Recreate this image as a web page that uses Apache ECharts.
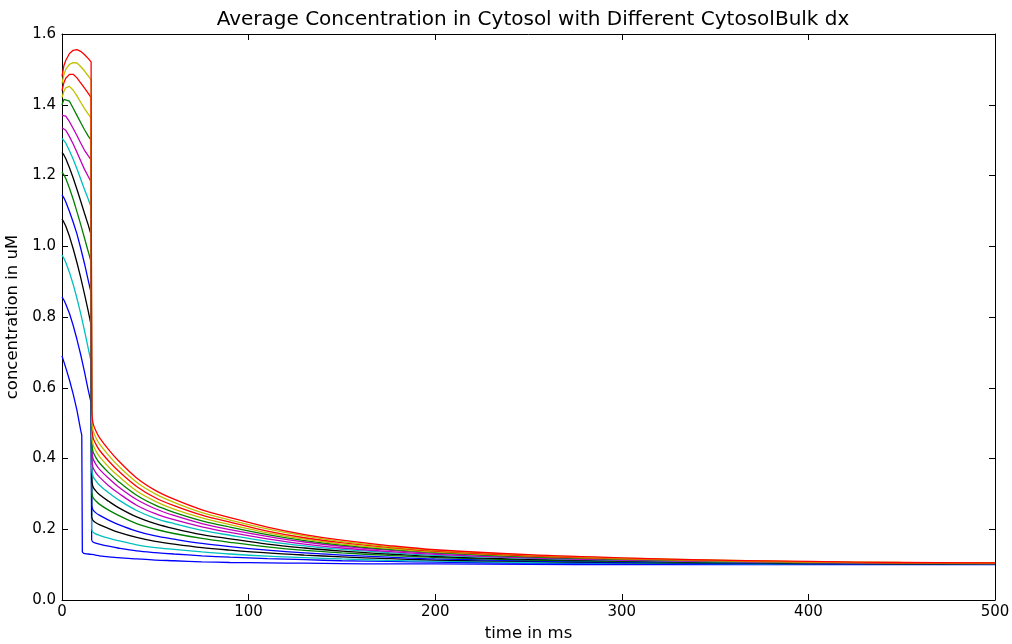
<!DOCTYPE html>
<html>
<head>
<meta charset="utf-8">
<script src="https://cdn.jsdelivr.net/npm/echarts@6/dist/echarts.min.js"></script>
<style>
html,body{margin:0;padding:0;background:#fff;}
#chart{width:1012px;height:644px;}
</style>
</head>
<body>
<div id="chart"></div>
<script>
// time samples (ms) shared by lines 1..14
const times = [0,1,2,4,6,8,10,12,14,15.6,15.9,16.6,18,20,25,30,40,50,60,75,90,110,130,150,175,200,250,300,350,400,450,500];
// time samples for the lowest line (earlier drop)
const timesLowest = [0,2,4,6,8,10,10.6,10.9,11.6,14,18,20,25,30,40,50,60,75,90,110,130,150,175,200,250,300,350,400,450,500];

// concentrations (uM), top line to bottom line
const line01 = [1.48,1.51,1.525,1.545,1.554,1.556,1.551,1.542,1.531,1.521, .532,.50,.48,.46,.425,.395,.345,.31,.285,.255,.233,.206,.185,.169,.154,.142,.128,.119,.113,.109,.106,.105];
const line02 = [1.46,1.485,1.5,1.514,1.519,1.518,1.508,1.496,1.482,1.47, .510,.48,.461,.442,.409,.380,.333,.300,.276,.247,.226,.201,.181,.165,.151,.140,.127,.118,.113,.108,.106,.105];
const line03 = [1.44,1.462,1.475,1.486,1.486,1.476,1.462,1.448,1.433,1.42, .489,.46,.442,.424,.393,.366,.321,.289,.267,.240,.220,.195,.176,.162,.149,.138,.125,.117,.112,.108,.105,.105];
const line04 = [1.42,1.438,1.448,1.452,1.441,1.425,1.407,1.39,1.374,1.362, .467,.44,.423,.406,.376,.351,.308,.279,.257,.232,.213,.190,.172,.158,.146,.136,.124,.116,.111,.107,.105,.104];
const line05 = [1.40,1.415,1.419,1.41,1.39,1.37,1.35,1.33,1.312,1.30, .446,.42,.404,.388,.360,.336,.296,.268,.248,.224,.206,.185,.168,.155,.143,.134,.122,.115,.111,.107,.105,.104];
const line06 = [1.37,1.372,1.368,1.352,1.333,1.313,1.292,1.272,1.256,1.244, .424,.40,.385,.370,.344,.321,.284,.258,.239,.216,.199,.180,.164,.152,.141,.132,.121,.114,.110,.107,.105,.104];
const line07 = [1.335,1.334,1.328,1.31,1.289,1.266,1.242,1.218,1.198,1.182, .397,.375,.361,.348,.323,.303,.268,.244,.227,.207,.191,.173,.158,.147,.137,.129,.119,.113,.109,.106,.104,.103];
const line08 = [1.305,1.30,1.292,1.27,1.246,1.219,1.19,1.161,1.134,1.111, .370,.35,.338,.325,.303,.284,.253,.231,.216,.197,.183,.166,.153,.143,.134,.126,.118,.112,.108,.106,.104,.103];
const line09 = [1.265,1.258,1.248,1.222,1.193,1.161,1.128,1.094,1.061,1.032, .338,.32,.309,.298,.279,.262,.235,.216,.202,.185,.173,.158,.147,.138,.130,.123,.115,.111,.107,.105,.103,.103];
const line10 = [1.21,1.202,1.192,1.164,1.133,1.098,1.062,1.024,0.986,0.955, .305,.29,.281,.271,.254,.240,.216,.200,.188,.174,.163,.150,.140,.133,.126,.120,.113,.109,.106,.104,.103,.102];
const line11 = [1.145,1.137,1.126,1.098,1.068,1.035,0.995,0.952,0.905,0.868, .267,.255,.247,.240,.226,.214,.195,.181,.172,.160,.151,.141,.133,.127,.121,.116,.111,.107,.105,.103,.102,.102];
const line12 = [1.077,1.068,1.057,1.028,0.993,0.954,0.912,0.866,0.818,0.777, .235,.225,.219,.213,.202,.192,.177,.166,.158,.148,.141,.133,.127,.122,.117,.113,.109,.106,.104,.103,.102,.102];
const line13 = [0.975,0.966,0.955,0.926,0.892,0.853,0.81,0.763,0.713,0.673, .199,.192,.187,.183,.175,.168,.156,.148,.143,.136,.130,.124,.120,.116,.112,.110,.106,.104,.103,.102,.101,.101];
const line14 = [0.857,0.848,0.837,0.81,0.776,0.737,0.694,0.646,0.595,0.557, .169,.164,.161,.158,.152,.147,.139,.134,.130,.125,.121,.117,.114,.111,.109,.107,.104,.103,.102,.101,.101,.101];
const line15 = [0.69,0.657,0.622,0.582,0.537,0.48,0.466,0.136,0.132,0.13,0.127,0.125,0.122,0.12,0.116,0.113,0.111,0.108,0.106,0.105,0.104,0.103,0.102,0.102,0.101,0.1,0.1,0.1,0.1,0.1];

const lineColors = ['#ff0000','#bfbf00','#ff0000','#bfbf00','#008000','#bf00bf','#bf00bf','#00bfbf','#000000','#008000','#0000ff','#000000','#00bfbf','#0000ff','#0000ff'];
const xTicks = [0,100,200,300,400,500];
const yTicks = [0,0.2,0.4,0.6,0.8,1.0,1.2,1.4,1.6];

const lines = [line01,line02,line03,line04,line05,line06,line07,line08,line09,line10,line11,line12,line13,line14,line15];

const series = [];
for (let k = lines.length - 1; k >= 0; k--) {
  const lowest = (k === 14);
  const t = lowest ? timesLowest : times;
  const split = lowest ? 7 : 10; // index where the fast drop ends and the slow decay begins
  const pts = t.map((x, i) => [x, lines[k][i]]);
  const style = { color: lineColors[k], width: 1.3 };
  series.push({
    type: 'line', data: pts.slice(0, split + 1), showSymbol: false, symbol: 'none',
    lineStyle: style, itemStyle: { color: lineColors[k] }, animation: false
  });
  series.push({
    type: 'line', data: pts.slice(split), showSymbol: false, symbol: 'none',
    smooth: 0.35,
    lineStyle: style, itemStyle: { color: lineColors[k] }, animation: false
  });
}

const FONT = 'DejaVu Sans';
const axisCommon = {
  axisLine: { show: true, onZero: false, lineStyle: { color: '#000', width: 1 } },
  axisTick: { show: true, inside: true, length: 6, lineStyle: { color: '#000', width: 1 } },
  splitLine: { show: false }
};

const chart = echarts.init(document.getElementById('chart'), null, { renderer: 'canvas' });
chart.setOption({
  backgroundColor: '#fff',
  animation: false,
  title: {
    text: 'Average Concentration in Cytosol with Different CytosolBulk dx',
    left: 528, top: 5, textAlign: 'center',
    textStyle: { fontFamily: FONT, fontSize: 20, fontWeight: 'normal', color: '#000' }
  },
  grid: { left: 62, right: 17, top: 34, bottom: 44, containLabel: false, outerBoundsMode: 'none' },
  xAxis: [
    Object.assign({
      type: 'value', min: xTicks[0], max: xTicks[xTicks.length - 1], interval: 100,
      name: 'time in ms', nameLocation: 'middle', nameGap: 24,
      nameTextStyle: { fontFamily: FONT, fontSize: 16.5, color: '#000' },
      axisLabel: { fontFamily: FONT, fontSize: 15, color: '#000', margin: 5 }
    }, axisCommon),
    Object.assign({
      type: 'value', position: 'top', min: 0, max: 500, interval: 100,
      axisLabel: { show: false }
    }, axisCommon)
  ],
  yAxis: [
    Object.assign({
      type: 'value', min: yTicks[0], max: yTicks[yTicks.length - 1], interval: 0.2,
      name: 'concentration in uM', nameLocation: 'middle', nameGap: 33,
      nameTextStyle: { fontFamily: FONT, fontSize: 16.5, color: '#000' },
      axisLabel: { fontFamily: FONT, fontSize: 15, color: '#000', margin: 6, formatter: v => v.toFixed(1) }
    }, axisCommon),
    Object.assign({
      type: 'value', position: 'right', min: 0, max: 1.6, interval: 0.2,
      axisLabel: { show: false }
    }, axisCommon)
  ],
  series: series
});
</script>
</body>
</html>
